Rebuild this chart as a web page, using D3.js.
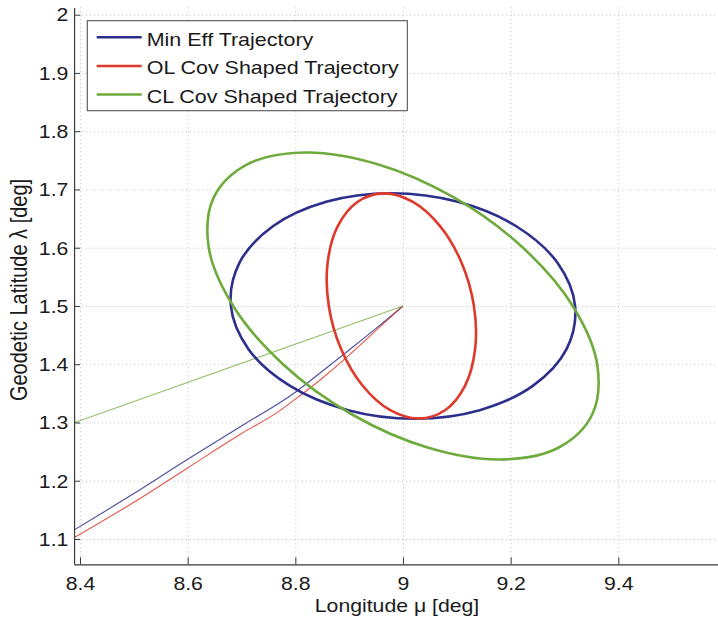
<!DOCTYPE html>
<html>
<head>
<meta charset="utf-8">
<script src="https://cdn.jsdelivr.net/npm/d3@7/dist/d3.min.js"></script>
<style>
  html, body { margin: 0; padding: 0; background: #fff; }
  svg { display: block; font-family: "Liberation Sans", Arial, Helvetica, sans-serif; }
</style>
</head>
<body>
<svg id="chart" width="718" height="620"></svg>
<script>
// ---------------- data ----------------
const xTicks = [8.4, 8.6, 8.8, 9.0, 9.2, 9.4];
const xTickLabels = ["8.4", "8.6", "8.8", "9", "9.2", "9.4"];
const yTicks = [1.1, 1.2, 1.3, 1.4, 1.5, 1.6, 1.7, 1.8, 1.9, 2.0];
const yTickLabels = ["1.1", "1.2", "1.3", "1.4", "1.5", "1.6", "1.7", "1.8", "1.9", "2"];

const seriesNames = ["Min Eff Trajectory", "OL Cov Shaped Trajectory", "CL Cov Shaped Trajectory"];

// trajectories [longitude, latitude]
const minEffTrajectory = [
  [9.0, 1.5], [8.95, 1.4615], [8.9, 1.4245], [8.85, 1.388], [8.8, 1.352],
  [8.7, 1.294], [8.6, 1.237], [8.5, 1.178], [8.389, 1.1155]
];
const olTrajectory = [
  [9.0, 1.5], [8.95, 1.458], [8.9, 1.4155], [8.85, 1.376], [8.8, 1.340],
  [8.77, 1.3195], [8.7, 1.281], [8.6, 1.222], [8.5, 1.163], [8.389, 1.1023]
];
const clTrajectory = [
  [9.0, 1.5], [8.389, 1.2997]
];

// covariance ellipses (points around the closed curve)
const minEffEllipse = [
  [8.978, 1.6935], [9.102, 1.6788], [9.2105, 1.6368], [9.287, 1.5741],
  [9.3197, 1.5], [9.3038, 1.4259], [9.2417, 1.3632], [9.1426, 1.3212],
  [9.022, 1.3065], [8.898, 1.3212], [8.7895, 1.3632], [8.713, 1.4259],
  [8.6803, 1.5], [8.6962, 1.5741], [8.7583, 1.6368], [8.8574, 1.6788]
];
const olEllipse = [
  [8.9644, 1.6932], [9.0185, 1.6785], [9.0692, 1.6366], [9.109, 1.5739],
  [9.1318, 1.5], [9.134, 1.4261], [9.1154, 1.3634], [9.0787, 1.3215],
  [9.0296, 1.3068], [8.9755, 1.3215], [8.9248, 1.3634], [8.885, 1.4261],
  [8.8622, 1.5], [8.86, 1.5739], [8.8786, 1.6366], [8.9153, 1.6785]
];
const clEllipse = [
  [8.8183, 1.7635], [8.9528, 1.7434], [9.0945, 1.6863], [9.2219, 1.6008],
  [9.3154, 1.5], [9.3609, 1.3992], [9.3515, 1.3137], [9.2886, 1.2566],
  [9.1817, 1.2365], [9.0472, 1.2566], [8.9055, 1.3137], [8.7781, 1.3992],
  [8.6846, 1.5], [8.6391, 1.6008], [8.6485, 1.6863], [8.7114, 1.7434]
];

const xLabel = "Longitude \u03BC [deg]";
const yLabel = "Geodetic Latitude \u03BB [deg]";

// ---------------- layout / style ----------------
const colors = ["#2c2f8c", "#de3a2b", "#6eab3c"];
const SX = 1.18; // horizontal glyph stretch seen in the picture

const svg = d3.select("#chart");
const xDomain = [8.389, 9.6];
const yDomain = [1.0566, 2.0125];
const x = d3.scaleLinear().domain(xDomain).range([74.08, 725.96]);
const y = d3.scaleLinear().domain(yDomain).range([564.28, 7.4]);

const plotLeft = x(xDomain[0]), plotBottom = y(yDomain[0]), plotTop = y(yDomain[1]);
const svgW = 718;

// grid
const grid = svg.append("g").attr("class", "grid");
grid.append("g")
  .attr("transform", `translate(0,${plotBottom})`)
  .call(d3.axisBottom(x).tickValues(xTicks).tickSize(-(plotBottom - plotTop)).tickFormat(""))
  .call(g => g.select(".domain").remove());
grid.append("g")
  .attr("transform", `translate(${plotLeft},0)`)
  .call(d3.axisLeft(y).tickValues(yTicks).tickSize(-(svgW - plotLeft)).tickFormat(""))
  .call(g => g.select(".domain").remove());
grid.selectAll("line")
  .attr("stroke", "#bdbdbd")
  .attr("stroke-width", 1)
  .attr("stroke-dasharray", "1,3");

// series
const pathLine = d3.line().x(d => x(d[0])).y(d => y(d[1]));
const closedLine = d3.line().x(d => x(d[0])).y(d => y(d[1])).curve(d3.curveCatmullRomClosed.alpha(0.5));
const smoothLine = d3.line().x(d => x(d[0])).y(d => y(d[1])).curve(d3.curveMonotoneX);

const plot = svg.append("g");
const trajs = [minEffTrajectory, olTrajectory, clTrajectory];
const ells = [minEffEllipse, olEllipse, clEllipse];

trajs.forEach((t, i) => {
  plot.append("path")
    .attr("d", (i === 2 ? pathLine : smoothLine)(t))
    .attr("fill", "none")
    .attr("stroke", colors[i])
    .attr("stroke-opacity", i === 2 ? 0.75 : 0.85)
    .attr("stroke-width", 1.1);
});
ells.forEach((e, i) => {
  plot.append("path")
    .attr("d", closedLine(e))
    .attr("fill", "none")
    .attr("stroke", colors[i])
    .attr("stroke-width", 2.6);
});

// axes
const xAxisG = svg.append("g")
  .attr("transform", `translate(0,${plotBottom})`)
  .call(d3.axisBottom(x).tickValues(xTicks).tickSize(-7).tickSizeOuter(0)
        .tickPadding(13).tickFormat((d, i) => xTickLabels[i]));
const yAxisG = svg.append("g")
  .attr("transform", `translate(${plotLeft},0)`)
  .call(d3.axisLeft(y).tickValues(yTicks).tickSize(-6).tickSizeOuter(0)
        .tickFormat((d, i) => yTickLabels[i]));

[xAxisG, yAxisG].forEach(g => {
  g.select(".domain").attr("stroke", "#3a3a3a").attr("stroke-width", 1.2);
  g.selectAll(".tick line").attr("stroke", "#3a3a3a").attr("stroke-width", 1);
  g.selectAll(".tick text")
    .attr("fill", "#1a1a1a")
    .style("font-size", "18px")
    .style("font-family", "'Liberation Sans', Arial, sans-serif");
});
xAxisG.selectAll(".tick text").attr("transform", `scale(${SX},1)`);
yAxisG.selectAll(".tick text")
  .attr("x", -5.7 / SX)
  .attr("dy", "0.35em")
  .attr("transform", `scale(${SX},1)`);

// axis titles
svg.append("text")
  .attr("transform", `translate(397,611.5) scale(${SX},1)`)
  .attr("text-anchor", "middle")
  .attr("fill", "#1a1a1a")
  .style("font-size", "18px")
  .text(xLabel);
svg.append("text")
  .attr("transform", `translate(26.7,290) scale(${SX},1) rotate(-90)`)
  .attr("text-anchor", "middle")
  .attr("fill", "#1a1a1a")
  .style("font-size", "20px")
  .text(yLabel);

// legend
const lg = svg.append("g");
lg.append("rect")
  .attr("x", 87.3).attr("y", 20.7)
  .attr("width", 320).attr("height", 90)
  .attr("fill", "#fff")
  .attr("stroke", "#555").attr("stroke-width", 1.1);
const rowY = [37.3, 66, 94.5];
seriesNames.forEach((name, i) => {
  lg.append("line")
    .attr("x1", 96.7).attr("x2", 141.7)
    .attr("y1", rowY[i]).attr("y2", rowY[i])
    .attr("stroke", colors[i]).attr("stroke-width", 2.6);
  lg.append("text")
    .attr("transform", `translate(146.7,${rowY[i] + 8.3}) scale(${SX},1)`)
    .attr("fill", "#1a1a1a")
    .style("font-size", "18.2px")
    .text(name);
});
</script>
</body>
</html>
